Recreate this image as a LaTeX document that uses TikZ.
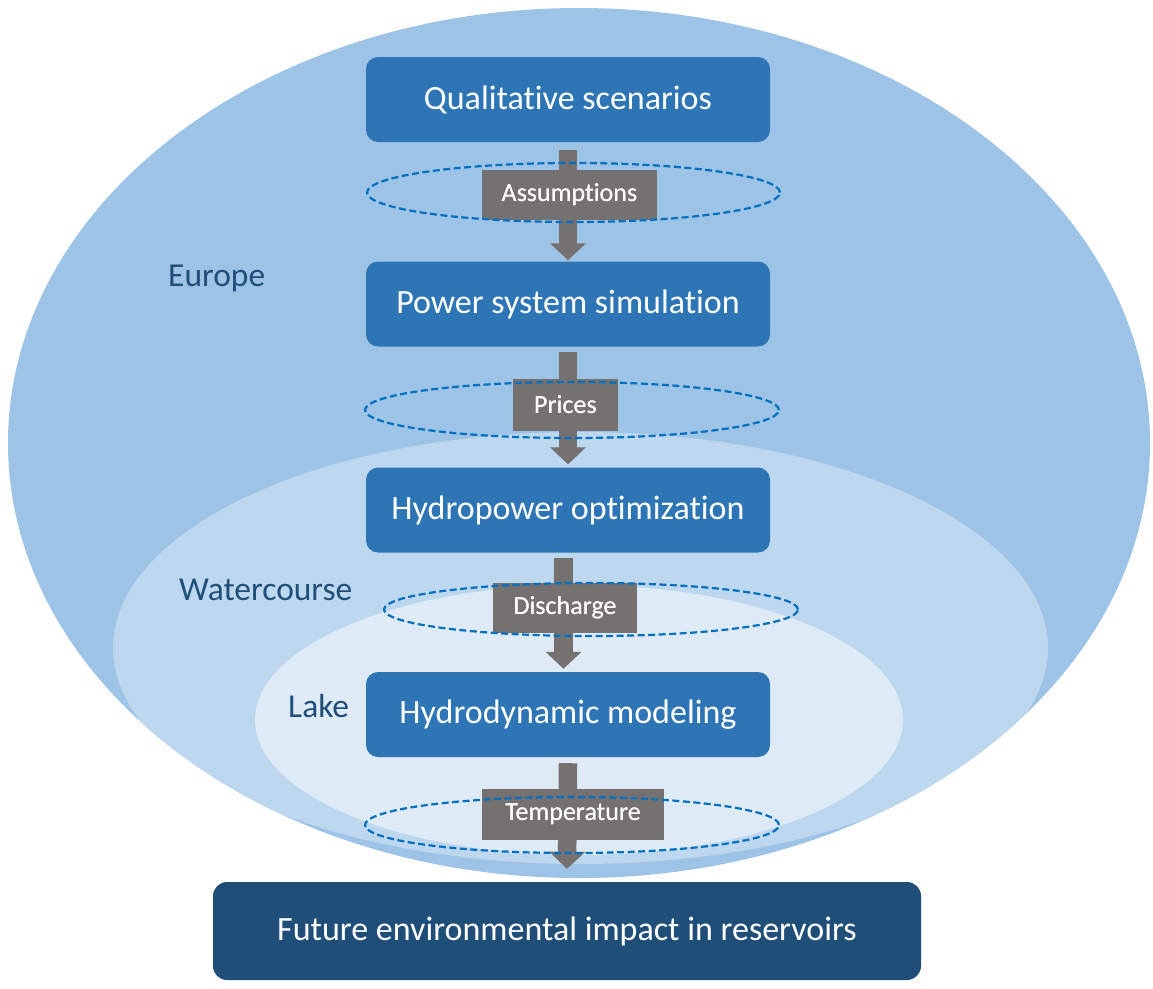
\documentclass[tikz,border=0pt]{standalone}
\usepackage{fontspec}
\setmainfont{Carlito}[Ligatures=CommonOff]
\usetikzlibrary{arrows.meta,shapes.geometric}

\definecolor{europefill}{HTML}{9DC3E6}
\definecolor{coursefill}{HTML}{BDD7EE}
\definecolor{lakefill}{HTML}{DEEBF7}
\definecolor{stageblue}{HTML}{2E75B6}
\definecolor{resultblue}{HTML}{1F4E79}
\definecolor{regiontext}{HTML}{1F4E79}
\definecolor{flowgray}{HTML}{767171}
\definecolor{ringblue}{HTML}{0070C0}

\begin{document}
\begin{tikzpicture}[x=1pt,y=-1pt,
  stage/.style={fill=stageblue, rounded corners=12pt, minimum width=404pt,
    minimum height=85pt, inner sep=0pt, text=white,
    font=\fontsize{34}{40}\selectfont},
  result/.style={stage, fill=resultblue, rounded corners=14pt,
    minimum width=708pt, minimum height=98pt},
  flow/.style={draw=flowgray, line width=18.5pt,
    -{Triangle[length=17pt,width=35pt]}},
  tag/.style={fill=flowgray, inner sep=0pt, text=white,
    font=\fontsize{26}{30}\selectfont},
  ring/.style={draw=ringblue, ellipse, dash pattern=on 7pt off 3.5pt,
    line width=2.2pt, inner sep=0pt},
  region/.style={anchor=base west, text=regiontext, inner sep=0pt,
    font=\fontsize{33.5}{40}\selectfont}]

\useasboundingbox (0,0) rectangle (1153,988);

% nested spatial scales
\fill[europefill] (579,443) ellipse [x radius=571pt, y radius=435pt];
\begin{scope}
  \clip (579,443) ellipse [x radius=571pt, y radius=435pt];
  \fill[coursefill] (580.5,648) ellipse [x radius=467.5pt, y radius=216pt];
  \fill[lakefill] (579,720) ellipse [x radius=324pt, y radius=135pt];
\end{scope}

\node[region] (europe) at (168,286) {Europe};
\node[region] (course) at (179,600) {Watercourse};
\node[region] (lake) at (288,717) {Lake};

% model chain
\node[stage] (qs) at (568,99.5) {Qualitative scenarios};
\node[stage] (ps) at (568,304) {Power system simulation};
\node[stage] (ho) at (568,510) {Hydropower optimization};
\node[stage] (hm) at (568,714.5) {Hydrodynamic modeling};
\node[result] (fe) at (567,931) {Future environmental impact in reservoirs};

\draw[flow] ([yshift=-8pt]qs.south) -- ([yshift=1pt]ps.north);
\draw[flow] ([yshift=-5pt]ps.south) -- ([yshift=3pt]ho.north);
\draw[flow] ([xshift=-4.5pt,yshift=-5pt]ho.south) -- ([xshift=-4.5pt,yshift=3pt]hm.north);
\draw[flow] ([yshift=-6pt]hm.south) -- ([yshift=13pt]fe.north);

% exchanged quantities
\node[tag, minimum width=175pt, minimum height=50pt] (t1) at (569.5,195) {Assumptions};
\node[tag, minimum width=105pt, minimum height=52pt] (t2) at (565.5,405) {Prices};
\node[tag, minimum width=144pt, minimum height=50pt] (t3) at (565,608) {Discharge};
\node[tag, minimum width=182pt, minimum height=51pt] (t4) at (573,814.5) {Temperature};

% interface rings
\node[ring, minimum width=413pt, minimum height=59pt] (r1) at (573.5,192.5) {};
\node[ring, minimum width=414pt, minimum height=56pt] (r2) at (572,410) {};
\node[ring, minimum width=414pt, minimum height=53pt] (r3) at (591,609.5) {};
\node[ring, minimum width=414pt, minimum height=56pt] (r4) at (572,825) {};

% labels stay readable above the rings
\node[tag, fill=none] at (t1) {Assumptions};
\node[tag, fill=none] at (t2) {Prices};
\node[tag, fill=none] at (t3) {Discharge};
\node[tag, fill=none] at (t4) {Temperature};
\end{tikzpicture}
\end{document}
